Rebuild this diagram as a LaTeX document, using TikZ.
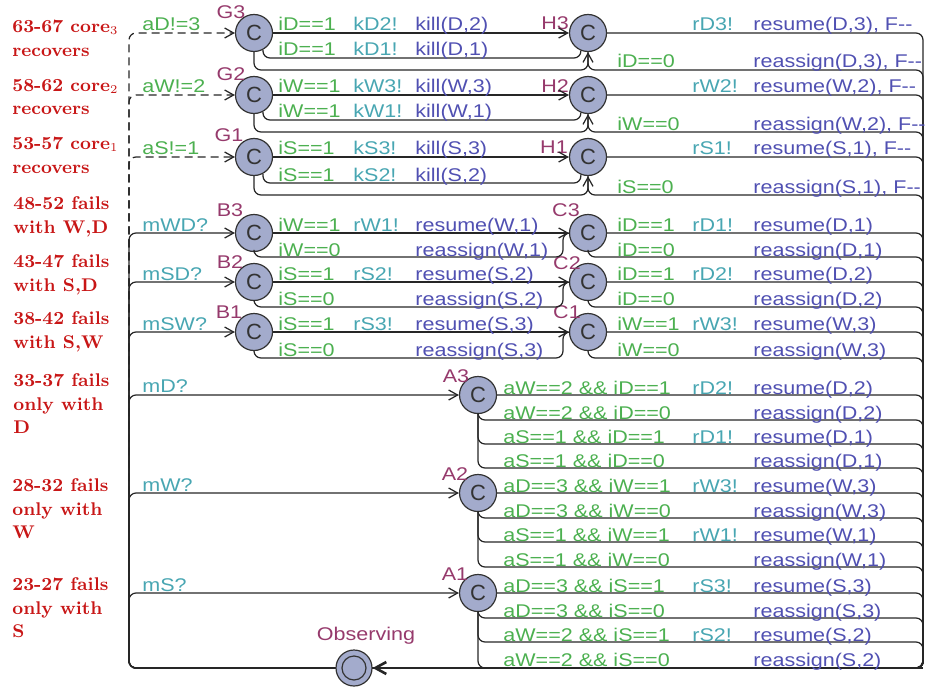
\documentclass[tikz,border=0pt]{standalone}
\usepackage{fontspec}
\newfontfamily\lsans{Liberation Sans}[FakeStretch=1.17]
\newfontfamily\lsansn{Liberation Sans}
\usetikzlibrary{arrows.meta}
\definecolor{cfill}{RGB}{163,171,204}
\definecolor{nname}{RGB}{150,58,108}
\definecolor{grd}{RGB}{76,176,80}
\definecolor{syn}{RGB}{72,166,178}
\definecolor{upd}{RGB}{80,80,178}
\definecolor{redl}{RGB}{200,22,22}
\newcommand\myrow[8]{%
  \node[gtx] (#1g) at (#3,#2) {#6};
  \node[stx] (#1s) at (#4,#2) {#7};
  \node[utx] (#1u) at (#5,#2) {#8};}
\newcommand\myrowns[6]{%
  \node[gtx] (#1g) at (#3,#2) {#5};
  \node[utx] (#1u) at (#4,#2) {#6};}
\begin{document}
\begin{tikzpicture}[x=0.5pt,y=-0.5pt,
  loc/.style={circle, draw=black!80, line width=0.6pt, fill=cfill, minimum size=18.5pt,
    inner sep=0pt, text=black!80, font=\lsansn\fontsize{11}{11}\selectfont},
  nm/.style={text=nname, inner sep=0pt, font=\lsans\fontsize{9.2}{10}\selectfont},
  txt/.style={inner sep=0pt, anchor=base west, font=\lsans\fontsize{9.2}{10}\selectfont},
  gtx/.style={txt, text=grd},
  stx/.style={txt, text=syn},
  utx/.style={txt, text=upd},
  lbl/.style={text=redl, inner sep=0pt, anchor=north west, align=left,
    font=\fontsize{9.2}{11.75}\selectfont\bfseries},
  edg/.style={draw=black!85, line width=0.62pt, rounded corners=3.5pt},
  arr/.style={-{Straight Barb[length=4.5pt,width=5pt]}},
  dsh/.style={dash pattern=on 4pt off 2.5pt}]
\useasboundingbox (0,0) rectangle (925,690);

% ---------- red side labels
\node[lbl] (l1) at (12,20) {63-67 core$_3$\\recovers};
\node[lbl] (l2) at (12,79) {58-62 core$_2$\\recovers};
\node[lbl] (l3) at (12,137) {53-57 core$_1$\\recovers};
\node[lbl] (l4) at (13,196.5) {48-52 fails\\with W,D};
\node[lbl] (l5) at (13,254.5) {43-47 fails\\with S,D};
\node[lbl] (l6) at (13,311.5) {38-42 fails\\with S,W};
\node[lbl] (l7) at (13,373.5) {33-37 fails\\only with\\D};
\node[lbl] (l8) at (12,478.5) {28-32 fails\\only with\\W};
\node[lbl] (l9) at (12,577.5) {23-27 fails\\only with\\S};

% ---------- locations
\node[loc] (G3) at (254,33) {C};
\node[loc] (G2) at (254,95) {C};
\node[loc] (G1) at (254,157) {C};
\node[loc] (B3) at (254,233) {C};
\node[loc] (B2) at (254,282) {C};
\node[loc] (B1) at (254,332) {C};
\node[loc] (H3) at (588,33) {C};
\node[loc] (H2) at (588,95) {C};
\node[loc] (H1) at (588,157) {C};
\node[loc] (C3) at (588,233) {C};
\node[loc] (C2) at (588,282) {C};
\node[loc] (C1) at (588,332) {C};
\node[loc] (A3) at (478,395) {C};
\node[loc] (A2) at (478,493) {C};
\node[loc] (A1) at (478,593) {C};
\node[loc, minimum size=18pt] (obs) at (354,668) {};
\node[circle, draw=black!80, line width=0.6pt, minimum size=12pt, inner sep=0pt] (obsin) at (obs) {};

% location names
\node[nm] (nG3) at (231,12) {G3};
\node[nm] (nG2) at (231,74) {G2};
\node[nm] (nG1) at (229,135) {G1};
\node[nm] (nB3) at (230,210) {B3};
\node[nm] (nB2) at (230,262) {B2};
\node[nm] (nB1) at (229,312) {B1};
\node[nm] (nH3) at (555,23) {H3};
\node[nm] (nH2) at (555,86) {H2};
\node[nm] (nH1) at (554,147) {H1};
\node[nm] (nC3) at (566,210) {C3};
\node[nm] (nC2) at (567,263) {C2};
\node[nm] (nC1) at (567,312) {C1};
\node[nm] (nA3) at (456,376) {A3};
\node[nm] (nA2) at (455,474) {A2};
\node[nm] (nA1) at (455,574) {A1};
\node[nm] (nObs) at (366,636) {Observing};

\coordinate (rc) at (923,668);

% ---------- edges from Observing (left)
\draw[edg,arr,dsh] (obs.west) -| (129,33) -- (G3.west);
\draw[edg,arr,dsh] (obs.west) -| (129,95) -- (G2.west);
\draw[edg,arr,dsh] (obs.west) -| (129,157) -- (G1.west);
\draw[edg,arr] (obs.west) -| (129,233) -- (B3.west);
\draw[edg,arr] (obs.west) -| (129,282) -- (B2.west);
\draw[edg,arr] (obs.west) -| (129,332) -- (B1.west);
\draw[edg,arr] (obs.west) -| (129,395) -- (A3.west);
\draw[edg,arr] (obs.west) -| (129,493) -- (A2.west);
\draw[edg,arr] (obs.west) -| (129,593) -- (A1.west);

\node[gtx] (eG3) at (142,31) {aD!=3};
\node[gtx] (eG2) at (142,93) {aW!=2};
\node[gtx] (eG1) at (142,155) {aS!=1};
\node[stx] (eB3) at (142,231) {mWD?};
\node[stx] (eB2) at (142,280) {mSD?};
\node[stx] (eB1) at (142,330) {mSW?};
\node[stx] (eA3) at (142,392) {mD?};
\node[stx] (eA2) at (142,491) {mW?};
\node[stx] (eA1) at (142,591) {mS?};

% ---------- G -> H
\draw[edg,arr] (G3) -- (H3);
\draw[edg,arr] (G3.south) |- (588,70) -- (H3.south);
\draw[edg] (G3.-62) |- (581,58) -- (H3.-112);
\draw[edg,arr] (G2) -- (H2);
\draw[edg,arr] (G2.south) |- (588,132) -- (H2.south);
\draw[edg] (G2.-62) |- (581,120) -- (H2.-112);
\draw[edg,arr] (G1) -- (H1);
\draw[edg,arr] (G1.south) |- (588,195) -- (H1.south);
\draw[edg] (G1.-62) |- (581,183) -- (H1.-112);

\myrow{tG3a}{31}{278}{353}{415}{iD==1}{kD2!}{kill(D,2)}
\myrow{tG3b}{56}{278}{353}{415}{iD==1}{kD1!}{kill(D,1)}
\myrow{tG2a}{93}{278}{353}{415}{iW==1}{kW3!}{kill(W,3)}
\myrow{tG2b}{118}{278}{353}{415}{iW==1}{kW1!}{kill(W,1)}
\myrow{tG1a}{155}{278}{353}{415}{iS==1}{kS3!}{kill(S,3)}
\myrow{tG1b}{181}{278}{353}{415}{iS==1}{kS2!}{kill(S,2)}

% ---------- H -> Observing
\draw[edg] (H3.east) -| (rc) -- (obs.east);
\draw[edg] (H3.south) |- (923,70) -- (rc) -- (obs.east);
\draw[edg] (H2.east) -| (rc) -- (obs.east);
\draw[edg] (H2.south) |- (923,132) -- (rc) -- (obs.east);
\draw[edg] (H1.east) -| (rc) -- (obs.east);
\draw[edg] (H1.south) |- (923,195) -- (rc) -- (obs.east);

\node[stx] (tH3as) at (692,31) {rD3!};
\node[utx] (tH3au) at (753,31) {resume(D,3), F--};
\myrowns{tH3b}{68}{617}{753}{iD==0}{reassign(D,3), F--}
\node[stx] (tH2as) at (692,93) {rW2!};
\node[utx] (tH2au) at (753,93) {resume(W,2), F--};
\myrowns{tH2b}{130}{617}{753}{iW==0}{reassign(W,2), F--}
\node[stx] (tH1as) at (692,155) {rS1!};
\node[utx] (tH1au) at (753,155) {resume(S,1), F--};
\myrowns{tH1b}{193}{617}{753}{iS==0}{reassign(S,1), F--}

% ---------- B -> C
\draw[edg,arr] (B3) -- (C3);
\draw[edg] (B3.south) |- (563,257) |- (C3.west);
\draw[edg,arr] (B2) -- (C2);
\draw[edg] (B2.south) |- (563,307) |- (C2.west);
\draw[edg,arr] (B1) -- (C1);
\draw[edg] (B1.south) |- (563,358) |- (C1.west);

\myrow{tB3a}{231}{278}{353}{415}{iW==1}{rW1!}{resume(W,1)}
\myrowns{tB3b}{256}{278}{415}{iW==0}{reassign(W,1)}
\myrow{tB2a}{280}{278}{353}{415}{iS==1}{rS2!}{resume(S,2)}
\myrowns{tB2b}{305}{278}{415}{iS==0}{reassign(S,2)}
\myrow{tB1a}{330}{278}{353}{415}{iS==1}{rS3!}{resume(S,3)}
\myrowns{tB1b}{356}{278}{415}{iS==0}{reassign(S,3)}

% ---------- C -> Observing
\draw[edg] (C3.east) -| (rc) -- (obs.east);
\draw[edg] (C3.south) |- (923,257) -- (rc) -- (obs.east);
\draw[edg] (C2.east) -| (rc) -- (obs.east);
\draw[edg] (C2.south) |- (923,307) -- (rc) -- (obs.east);
\draw[edg] (C1.east) -| (rc) -- (obs.east);
\draw[edg] (C1.south) |- (923,358) -- (rc) -- (obs.east);

\myrow{tC3a}{231}{617}{692}{753}{iD==1}{rD1!}{resume(D,1)}
\myrowns{tC3b}{256}{617}{753}{iD==0}{reassign(D,1)}
\myrow{tC2a}{280}{617}{692}{753}{iD==1}{rD2!}{resume(D,2)}
\myrowns{tC2b}{305}{617}{753}{iD==0}{reassign(D,2)}
\myrow{tC1a}{330}{617}{692}{753}{iW==1}{rW3!}{resume(W,3)}
\myrowns{tC1b}{356}{617}{753}{iW==0}{reassign(W,3)}

% ---------- A -> Observing
\draw[edg] (A3.east) -| (rc) -- (obs.east);
\draw[edg] (A3.south) |- (923,420) -- (rc) -- (obs.east);
\draw[edg] (A3.south) |- (923,444) -- (rc) -- (obs.east);
\draw[edg] (A3.south) |- (923,468) -- (rc) -- (obs.east);
\draw[edg] (A2.east) -| (rc) -- (obs.east);
\draw[edg] (A2.south) |- (923,518) -- (rc) -- (obs.east);
\draw[edg] (A2.south) |- (923,542) -- (rc) -- (obs.east);
\draw[edg] (A2.south) |- (923,567) -- (rc) -- (obs.east);
\draw[edg] (A1.east) -| (rc) -- (obs.east);
\draw[edg] (A1.south) |- (923,618) -- (rc) -- (obs.east);
\draw[edg] (A1.south) |- (923,642) -- (rc) -- (obs.east);
\draw[edg] (A1.south) |- (rc) -- (obs.east);
\draw[line width=1.3pt, draw=black!85, -{Straight Barb[length=5.5pt,width=6pt]}] (rc) -- (obs.east);

\myrow{tA3a}{394}{503}{692}{753}{aW==2 \&\& iD==1}{rD2!}{resume(D,2)}
\myrowns{tA3b}{419}{503}{753}{aW==2 \&\& iD==0}{reassign(D,2)}
\myrow{tA3c}{443}{503}{692}{753}{aS==1 \&\& iD==1}{rD1!}{resume(D,1)}
\myrowns{tA3d}{467}{503}{753}{aS==1 \&\& iD==0}{reassign(D,1)}
\myrow{tA2a}{492}{503}{692}{753}{aD==3 \&\& iW==1}{rW3!}{resume(W,3)}
\myrowns{tA2b}{517}{503}{753}{aD==3 \&\& iW==0}{reassign(W,3)}
\myrow{tA2c}{541}{503}{692}{753}{aS==1 \&\& iW==1}{rW1!}{resume(W,1)}
\myrowns{tA2d}{566}{503}{753}{aS==1 \&\& iW==0}{reassign(W,1)}
\myrow{tA1a}{592}{503}{692}{753}{aD==3 \&\& iS==1}{rS3!}{resume(S,3)}
\myrowns{tA1b}{617}{503}{753}{aD==3 \&\& iS==0}{reassign(S,3)}
\myrow{tA1c}{641}{503}{692}{753}{aW==2 \&\& iS==1}{rS2!}{resume(S,2)}
\myrowns{tA1d}{666}{503}{753}{aW==2 \&\& iS==0}{reassign(S,2)}
\end{tikzpicture}
\end{document}
